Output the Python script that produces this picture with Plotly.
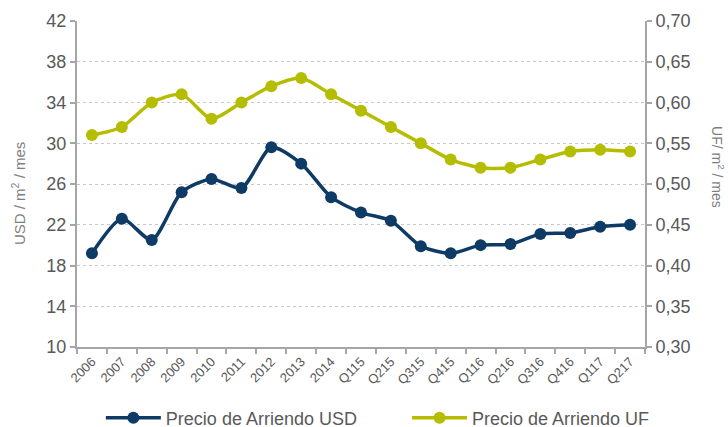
import plotly.graph_objects as go

categories = ["2006", "2007", "2008", "2009", "2010", "2011", "2012", "2013", "2014",
              "Q115", "Q215", "Q315", "Q415", "Q116", "Q216", "Q316", "Q416", "Q117", "Q217"]
usd_values = [19.2, 22.6, 20.5, 25.2, 26.5, 25.6, 29.6, 28.0, 24.7,
              23.2, 22.4, 19.9, 19.2, 20.0, 20.1, 21.1, 21.2, 21.8, 22.0]
uf_values = [0.56, 0.57, 0.60, 0.61, 0.58, 0.60, 0.62, 0.63, 0.61,
             0.59, 0.57, 0.55, 0.53, 0.52, 0.52, 0.53, 0.54, 0.542, 0.54]
left_ticks = [10, 14, 18, 22, 26, 30, 34, 38, 42]
right_ticks = [0.30, 0.35, 0.40, 0.45, 0.50, 0.55, 0.60, 0.65, 0.70]

navy = "#0d3b66"
olive = "#b5bd00"
gray_txt = "#595959"
title_gray = "#7f7f7f"
axis_gray = "#a6a6a6"
font_family = "Liberation Sans, Arial, sans-serif"

fig = go.Figure()
fig.add_trace(go.Scatter(
    x=categories, y=usd_values, name="Precio de Arriendo USD",
    mode="lines+markers", line=dict(color=navy, width=3.5, shape="spline", smoothing=0.7),
    marker=dict(color=navy, size=12), yaxis="y", legend="legend"))
fig.add_trace(go.Scatter(
    x=categories, y=uf_values, name="Precio de Arriendo UF",
    mode="lines+markers", line=dict(color=olive, width=3.5, shape="spline", smoothing=0.7),
    marker=dict(color=olive, size=12), yaxis="y2", legend="legend2"))

legend_common = dict(orientation="h", xanchor="left", y=-0.218, yanchor="middle",
                     font=dict(size=18, color=gray_txt), itemwidth=55,
                     bgcolor="rgba(0,0,0,0)")

fig.update_layout(
    width=728, height=427,
    margin=dict(l=77, r=83, t=21, b=80, autoexpand=False),
    paper_bgcolor="white", plot_bgcolor="white",
    separators=",.",
    font=dict(family=font_family, color=gray_txt),
    showlegend=True,
    legend=dict(x=0.042, **legend_common),
    legend2=dict(x=0.581, **legend_common),
    xaxis=dict(type="category", tickangle=-45, tickfont=dict(size=13, color=gray_txt),
               showline=True, linecolor=axis_gray, linewidth=2,
               ticks="outside", ticklen=5, tickcolor=axis_gray, tickwidth=1.5,
               tickson="boundaries", showgrid=False, zeroline=False, automargin=False,
               range=[-0.5, len(categories) - 0.5]),
    yaxis=dict(range=[10, 42], tickvals=left_ticks, ticktext=[str(v) for v in left_ticks],
               tickfont=dict(size=18, color=gray_txt),
               showline=True, linecolor=axis_gray, linewidth=2,
               ticks="outside", ticklen=5, tickcolor=axis_gray, tickwidth=1.5,
               showgrid=True, gridcolor="#c8c8c8", griddash="dot", gridwidth=1,
               zeroline=False, automargin=False),
    yaxis2=dict(range=[0.30, 0.70], tickvals=right_ticks,
                ticktext=[f"{v:.2f}".replace(".", ",") for v in right_ticks],
                tickfont=dict(size=18, color=gray_txt),
                overlaying="y", side="right",
                showline=True, linecolor=axis_gray, linewidth=2,
                ticks="outside", ticklen=5, tickcolor=axis_gray, tickwidth=1.5,
                showgrid=False, zeroline=False, automargin=False),
    annotations=[
        dict(text="USD / m<sup>2</sup> / mes", textangle=-90, xref="paper", yref="paper",
             x=-0.104, y=0.472, xanchor="center", yanchor="middle", showarrow=False,
             font=dict(size=15, color=title_gray)),
        dict(text="UF/ m<sup>2</sup> / mes", textangle=90, xref="paper", yref="paper",
             x=1.1285, y=0.552, xanchor="center", yanchor="middle", showarrow=False,
             font=dict(size=14, color=title_gray)),
    ],
)

fig.write_html("out.html", config={"displayModeBar": False},
               post_script="document.body.style.margin='0';document.body.style.overflow='hidden';")
